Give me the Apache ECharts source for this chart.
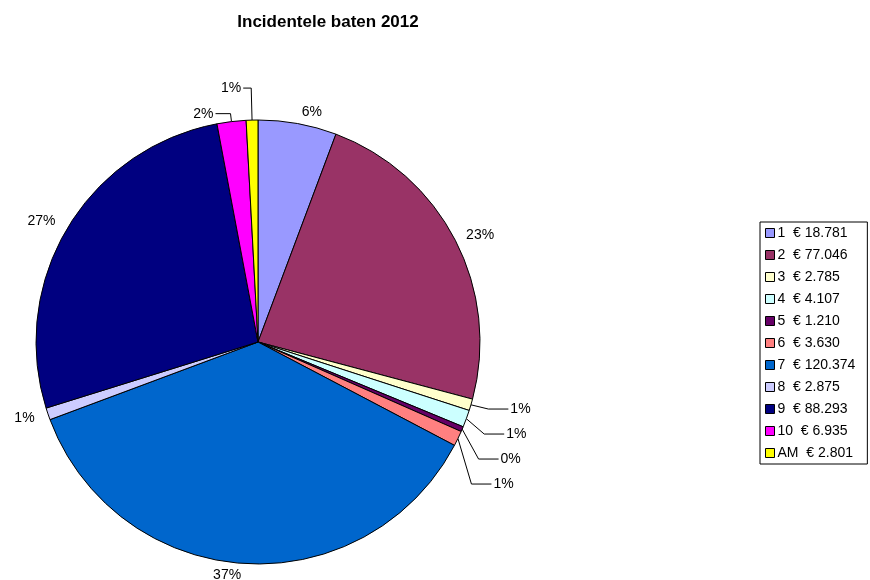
<!DOCTYPE html>
<html>
<head>
<meta charset="utf-8">
<script src="https://cdn.jsdelivr.net/npm/echarts@6/dist/echarts.min.js"></script>
<style>
html,body{margin:0;padding:0;background:#fff;}
#chart{width:870px;height:580px;}
</style>
</head>
<body>
<div id="chart"></div>
<script>
const titleText = 'Incidentele baten 2012';
const categories = ['1', '2', '3', '4', '5', '6', '7', '8', '9', '10', 'AM'];
const amounts = [18781, 77046, 2785, 4107, 1210, 3630, 120374, 2875, 88293, 6935, 2801];
const colors = ['#9999FF', '#993366', '#FFFFCC', '#CCFFFF', '#660066', '#FF8080', '#0066CC', '#CCCCFF', '#000080', '#FF00FF', '#FFFF00'];

// leader-line styling per slice (style only, not data)
const leaderStyle = {
  '3':  { show: true, length: 15, length2: 20 },
  '4':  { show: true, length: 15, length2: 20 },
  '5':  { show: true, length: 15, length2: 20 },
  '6':  { show: true, length: 15, length2: 20 },
  '10': { show: true, length: 8, length2: 15 },
  'AM': { show: true, length: 32, length2: 8 }
};
const plainLine = { show: false, length: 12, length2: 0 };
// labels on the left half are laid out without overlap shifting
const leftSide = ['7', '8', '9', '10', 'AM'];

function fmtEuro(v) {
  return '€ ' + String(v).replace(/\B(?=(\d{3})+(?!\d))/g, '.');
}
const legendLabel = {};
categories.forEach((c, i) => { legendLabel[c] = c + '  ' + fmtEuro(amounts[i]); });

function buildData(showLeft, visible) {
  return categories.map((c, i) => {
    const lead = leaderStyle[c];
    const isLeft = leftSide.indexOf(c) >= 0;
    const show = showLeft ? isLeft : !isLeft;
    return {
      name: c,
      value: amounts[i],
      itemStyle: visible ? { color: colors[i] } : { color: 'rgba(0,0,0,0)', borderWidth: 0 },
      labelLine: show ? (lead || plainLine) : { show: false },
      label: { show: show, lineHeight: lead ? 23 : 10 }
    };
  });
}

const FONT = 'Liberation Sans, Arial, sans-serif';
const baseLabel = {
  show: true,
  position: 'outside',
  formatter: p => Math.round(p.percent) + '%',
  fontSize: 14, color: '#000',
  fontFamily: FONT,
  distanceToLabelLine: 2
};
const chart = echarts.init(document.getElementById('chart'));
chart.setOption({
  animation: false,
  backgroundColor: '#ffffff',
  textStyle: { fontFamily: FONT, color: '#000' },
  title: {
    text: titleText,
    left: 323, top: 9, textAlign: 'center',
    textStyle: { fontSize: 17, fontWeight: 'bold', color: '#000', fontFamily: FONT }
  },
  legend: {
    orient: 'vertical',
    left: 760, top: 222,
    padding: [4, 12, 4, 5],
    borderColor: '#000', borderWidth: 1,
    itemWidth: 9, itemHeight: 9, itemGap: 8,
    icon: 'rect',
    itemStyle: { borderColor: '#000', borderWidth: 1 },
    textStyle: { fontSize: 14, color: '#000', padding: [0, 0, 0, -2], fontFamily: FONT },
    formatter: name => legendLabel[name],
    data: categories
  },
  series: [{
    type: 'pie',
    center: [258, 342],
    radius: 222,
    startAngle: 90,
    clockwise: true,
    avoidLabelOverlap: true,
    itemStyle: { borderColor: '#000', borderWidth: 1 },
    label: baseLabel,
    labelLine: { lineStyle: { color: '#000', width: 1 } },
    data: buildData(false, true)
  }, {
    type: 'pie',
    center: [258, 342],
    radius: 222,
    startAngle: 90,
    clockwise: true,
    silent: true,
    avoidLabelOverlap: false,
    emphasis: { disabled: true },
    itemStyle: { borderWidth: 0 },
    label: baseLabel,
    labelLine: { lineStyle: { color: '#000', width: 1 } },
    data: buildData(true, false)
  }]
});
</script>
</body>
</html>
